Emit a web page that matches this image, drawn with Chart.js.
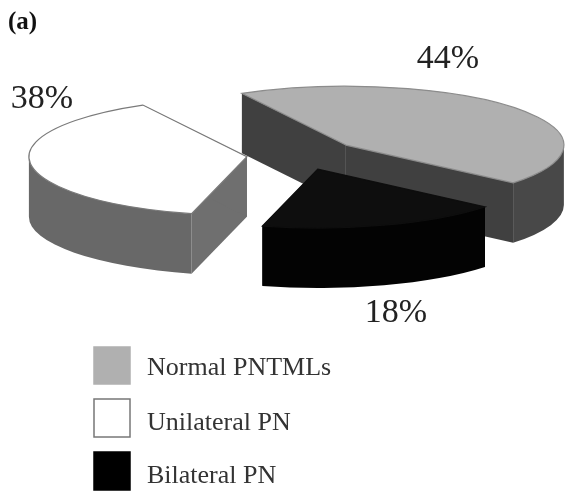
<!DOCTYPE html>
<html>
<head>
<meta charset="utf-8">
<title>Pie chart (a)</title>
<script src="https://cdn.jsdelivr.net/npm/chart.js@4"></script>
<style>
  html, body { margin: 0; padding: 0; background: #fff; }
  #wrap { position: relative; width: 566px; height: 491px; }
  canvas { filter: blur(0.55px); }
</style>
</head>
<body>
<div id="wrap"><canvas id="chart" width="566" height="491"></canvas></div>
<script>
// clockwise from the grey slice, the pie always draws this way round
const categories = ["Normal PNTMLs", "Bilateral PN", "Unilateral PN"];
const values = [44, 18, 38];
const legendOrder = ["Normal PNTMLs", "Unilateral PN", "Bilateral PN"];

const topColors = ["#b0b0b0", "#0e0e0e", "#ffffff"];
const wallColors = ["#484848", "#030303", "#686868"];
const faceColors = ["#404040", "#0a0a0a", "#6f6f6f"];
const edgeColors = ["#8c8c8c", "#0e0e0e", "#7a7a7a"];
const explode = [58, 55, 54.5];

const squash = 0.27; // flattening of the pie
const depth = 60;
const pieCenter = { x: 301, y: 155 };
const serif = '"Liberation Serif", "Times New Roman", serif';

const valueLabelAt = [
  { x: 448, y: 68 },
  { x: 396, y: 322 },
  { x: 42, y: 108 },
];
const legendRows = [
  { top: 347, height: 37, baseline: 375 },
  { top: 399, height: 38, baseline: 430 },
  { top: 452, height: 38, baseline: 483 },
];

function arcGeometry(arc) {
  return {
    x: arc.x,
    y: pieCenter.y + (arc.y - pieCenter.y) * squash,
    r: arc.outerRadius,
    ry: arc.outerRadius * squash,
    start: arc.startAngle,
    end: arc.endAngle,
  };
}

function drawFace(ctx, g, angle, color) {
  const ex = g.x + Math.cos(angle) * g.r;
  const ey = g.y + Math.sin(angle) * g.ry;
  ctx.fillStyle = color;
  ctx.beginPath();
  ctx.moveTo(g.x, g.y);
  ctx.lineTo(ex, ey);
  ctx.lineTo(ex, ey + depth);
  ctx.lineTo(g.x, g.y + depth);
  ctx.closePath();
  ctx.fill();
}

const pie3d = {
  id: "pie3d",
  beforeDatasetsDraw(chart) {
    const ctx = chart.ctx;
    const arcs = chart.getDatasetMeta(0).data;
    // the option "offset" also grows the radius, so move the slices instead
    arcs.forEach((arc, i) => {
      const mid = arc.startAngle + arc.circumference / 2;
      arc.x = pieCenter.x + Math.cos(mid) * explode[i];
      arc.y = pieCenter.y + Math.sin(mid) * explode[i];
    });
    // back to front: grey, white, black
    [0, 2, 1].forEach((i) => {
      const g = arcGeometry(arcs[i]);
      drawFace(ctx, g, g.start, faceColors[i]);
      drawFace(ctx, g, g.end, faceColors[i]);
      // only the front half of the rim is visible
      const from = Math.max(g.start, 0);
      const to = Math.min(g.end, Math.PI);
      ctx.fillStyle = wallColors[i];
      ctx.beginPath();
      ctx.ellipse(g.x, g.y, g.r, g.ry, 0, from, to);
      ctx.ellipse(g.x, g.y + depth, g.r, g.ry, 0, to, from, true);
      ctx.closePath();
      ctx.fill();
    });
    ctx.save();
    ctx.translate(0, pieCenter.y);
    ctx.scale(1, squash);
    ctx.translate(0, -pieCenter.y);
  },
  afterDatasetsDraw(chart) {
    const ctx = chart.ctx;
    ctx.restore();
    chart.getDatasetMeta(0).data.forEach((arc, i) => {
      const g = arcGeometry(arc);
      ctx.strokeStyle = edgeColors[i];
      ctx.lineWidth = 1.2;
      ctx.beginPath();
      ctx.moveTo(g.x, g.y);
      ctx.ellipse(g.x, g.y, g.r, g.ry, 0, g.start, g.end);
      ctx.closePath();
      ctx.stroke();
    });
  },
  afterDraw(chart) {
    const ctx = chart.ctx;
    ctx.save();
    ctx.fillStyle = "#222";
    ctx.textAlign = "center";
    ctx.textBaseline = "alphabetic";
    ctx.font = "34px " + serif;
    values.forEach((v, i) => {
      ctx.fillText(v + "%", valueLabelAt[i].x, valueLabelAt[i].y);
    });

    ctx.textAlign = "left";
    ctx.font = "26px " + serif;
    legendOrder.forEach((name, row) => {
      const i = categories.indexOf(name);
      const r = legendRows[row];
      ctx.fillStyle = i === 1 ? "#000" : topColors[i];
      ctx.fillRect(94, r.top, 36, r.height);
      ctx.strokeStyle = i === 2 ? "#777" : ctx.fillStyle;
      ctx.lineWidth = 1.5;
      ctx.strokeRect(94, r.top, 36, r.height);
      ctx.fillStyle = "#333";
      ctx.fillText(name, 147, r.baseline);
    });

    ctx.fillStyle = "#111";
    ctx.font = "bold 25px " + serif;
    ctx.fillText("(a)", 8, 29);
    ctx.restore();
  },
};

new Chart(document.getElementById("chart"), {
  type: "pie",
  data: {
    labels: categories,
    datasets: [
      {
        data: values,
        backgroundColor: topColors,
        borderWidth: 0,
      },
    ],
  },
  options: {
    responsive: false,
    animation: false,
    rotation: -28.5,
    radius: 218,
    events: [],
    plugins: {
      legend: { display: false },
      title: { display: false },
      tooltip: { enabled: false },
    },
  },
  plugins: [pie3d],
});
</script>
</body>
</html>
